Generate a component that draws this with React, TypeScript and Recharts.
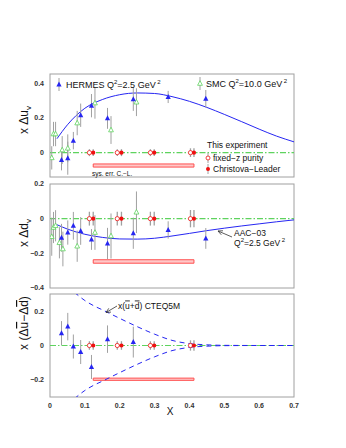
import React from "react";
import {
  ComposedChart,
  Line,
  Scatter,
  XAxis,
  YAxis,
  ErrorBar,
  ReferenceLine,
  ReferenceArea,
} from "recharts";

const BLUE = "#2626f2";
const GREEN = "#5ed35e";
const RED = "#f01010";
const GRAY = "#a0a0a0";
const FONT = "'Liberation Sans', Arial, sans-serif";

// x positions of the measurements
const xHermes = [0.033, 0.051, 0.067, 0.088, 0.119, 0.165, 0.239, 0.339, 0.447];
const xSmcU = [0.005, 0.01, 0.016, 0.035, 0.051, 0.078, 0.129, 0.175, 0.248];
const xSmcD = [0.005, 0.01, 0.016, 0.027, 0.037, 0.078, 0.129, 0.175, 0.248];
const xFixedZ = [0.113, 0.193, 0.288, 0.403];
const xChrLea = [0.124, 0.205, 0.299, 0.413];

// panel 1: x Δu_v
const uvHermes = [-0.042, -0.032, 0.069, 0.215, 0.27, 0.197, 0.307, 0.32, 0.31];
const uvHermesErr = [0.06, 0.095, 0.05, 0.067, 0.067, 0.06, 0.067, 0.035, 0.05];
const uvSmc = [-0.03, 0.107, 0.107, 0.015, 0.025, 0.17, 0.285, 0.13, 0.29];
const uvSmcErr = [0.067, 0.07, 0.07, 0.08, 0.08, 0.07, 0.09, 0.08, 0.08];
const uvThis = [0, 0, 0, 0];
const uvThisErr = [0.02, 0.02, 0.02, 0.025];
const uvSys = [-0.083, -0.065];

// panel 2: x Δd_v
const dvHermes = [-0.11, -0.08, -0.041, -0.071, -0.12, -0.143, -0.084, -0.065, -0.114];
const dvHermesErr = [0.08, 0.07, 0.08, 0.08, 0.06, 0.09, 0.09, 0.05, 0.06];
const dvSmc = [-0.104, -0.051, -0.041, -0.139, -0.175, -0.159, -0.08, -0.1, 0.037];
const dvSmcErr = [0.11, 0.09, 0.09, 0.09, 0.1, 0.09, 0.1, 0.13, 0.12];
const dvThis = [0, 0, 0, 0];
const dvThisErr = [0.04, 0.04, 0.04, 0.05];
const dvSys = [-0.257, -0.237];

// panel 3: x (Δū − Δd̄)
const xHermesSea = [0.033, 0.051, 0.067, 0.088, 0.119, 0.165, 0.239];
const seaHermes = [0.072, 0.11, -0.006, -0.038, -0.125, 0.037, 0.02];
const seaHermesErr = [0.07, 0.08, 0.07, 0.07, 0.07, 0.08, 0.09];
const seaThis = [0, 0, 0, 0];
const seaThisErr = [0.025, 0.025, 0.025, 0.03];
const seaSys = [-0.203, -0.19];

// AAC-03 curves, Q²=2.5 GeV²
const aacX = [0.02, 0.05, 0.1, 0.15, 0.2, 0.25, 0.3, 0.35, 0.4, 0.45, 0.5, 0.55, 0.6, 0.65, 0.7];
const aacUv = [0.08, 0.16, 0.255, 0.305, 0.333, 0.343, 0.34, 0.322, 0.295, 0.26, 0.22, 0.178, 0.135, 0.095, 0.062];
const aacDv = [-0.035, -0.06, -0.09, -0.108, -0.117, -0.118, -0.113, -0.1, -0.085, -0.069, -0.055, -0.042, -0.03, -0.018, -0.007];

// CTEQ5M x(ū+d̄) band
const cteqX = [0.07, 0.1, 0.125, 0.15, 0.2, 0.25, 0.3, 0.35, 0.4, 0.45, 0.5, 0.6, 0.7];
const cteqUp = [0.31, 0.262, 0.232, 0.208, 0.158, 0.11, 0.066, 0.03, 0.011, 0.004, 0.001, 0, 0];
const cteqDn = [-0.31, -0.262, -0.232, -0.208, -0.158, -0.11, -0.066, -0.03, -0.011, -0.004, -0.001, 0, 0];

const xTicks = [0, 0.1, 0.2, 0.3, 0.4, 0.5, 0.6, 0.7];
const xMinor = [0, 0.02, 0.04, 0.06, 0.08, 0.1, 0.12, 0.14, 0.16, 0.18, 0.2, 0.22, 0.24, 0.26, 0.28, 0.3, 0.32, 0.34, 0.36, 0.38, 0.4, 0.42, 0.44, 0.46, 0.48, 0.5, 0.52, 0.54, 0.56, 0.58, 0.6, 0.62, 0.64, 0.66, 0.68, 0.7];

const pts = (xs: number[], ys: number[], es?: number[]) =>
  xs.map((x, i) => ({ x, y: ys[i], e: es ? es[i] : 0 }));

const fmt = (v: number) => String(v).replace("-", "\u2212");
const NoTick = () => <g />;

// marker shapes (recharts passes the scaled cx/cy)
const BlueTri = (p: any) => (
  <polygon points={`${p.cx},${p.cy - 3} ${p.cx - 2.6},${p.cy + 2} ${p.cx + 2.6},${p.cy + 2}`} fill={BLUE} />
);
const GreenTri = (p: any) => (
  <polygon
    points={`${p.cx},${p.cy - 2.8} ${p.cx - 2.4},${p.cy + 1.8} ${p.cx + 2.4},${p.cy + 1.8}`}
    fill="#fff"
    stroke={GREEN}
    strokeWidth={0.8}
  />
);
const OpenDot = (p: any) => <circle cx={p.cx} cy={p.cy} r={2.1} fill="#fff" stroke={RED} strokeWidth={0.8} />;
const FullDot = (p: any) => <circle cx={p.cx} cy={p.cy} r={2.1} fill={RED} />;

const W = 346;
const PLOT_L = 50;
const PLOT_R = 294;
const PAD = 6;

type PanelProps = {
  top: number;
  height: number;
  domain: [number, number];
  yTicks: number[];
  showX?: boolean;
  children: React.ReactNode;
};

function Panel({ top, height, domain, yTicks, showX, children }: PanelProps) {
  const axisH = showX ? 22 : 0;
  return (
    <div style={{ position: "absolute", left: 0, top: top - PAD }}>
      <ComposedChart
        width={W}
        height={height + axisH + 2 * PAD}
        margin={{ top: PAD, right: W - PLOT_R, bottom: PAD, left: 0 }}
      >
        <XAxis
          dataKey="x"
          type="number"
          domain={[0, 0.7]}
          ticks={xTicks}
          allowDataOverflow
          hide={!showX}
          height={axisH}
          axisLine={false}
          tickLine={false}
          tickSize={0}
          tickMargin={6}
          tickFormatter={fmt}
          tick={{ fontSize: 7, fill: "#333", fontFamily: FONT, fontWeight: 700 }}
        />
        <XAxis
          xAxisId="maj"
          dataKey="x"
          type="number"
          domain={[0, 0.7]}
          ticks={xTicks}
          mirror
          height={0}
          axisLine={false}
          tickSize={5}
          tick={NoTick}
          stroke={GRAY}
        />
        <XAxis
          xAxisId="min"
          dataKey="x"
          type="number"
          domain={[0, 0.7]}
          ticks={xMinor}
          mirror
          height={0}
          axisLine={false}
          tickSize={2.5}
          tick={NoTick}
          stroke={GRAY}
        />
        <YAxis
          type="number"
          domain={domain}
          ticks={yTicks}
          allowDataOverflow
          width={PLOT_L}
          axisLine={false}
          tickLine={false}
          tickSize={0}
          tickMargin={6}
          tickFormatter={fmt}
          tick={{ fontSize: 7, fill: "#333", fontFamily: FONT, fontWeight: 700 }}
        />
        {children}
      </ComposedChart>
    </div>
  );
}

function sysBand(ys: number[]) {
  return (
    <ReferenceArea
      x1={xChrLea[0]}
      x2={xChrLea[3]}
      y1={ys[0]}
      y2={ys[1]}
      fill="#ffc8c8"
      fillOpacity={1}
      stroke="#ff5050"
      strokeWidth={1}
    />
  );
}

function zeroLine() {
  return <ReferenceLine y={0} stroke={GREEN} strokeWidth={1.2} strokeDasharray="6 2 1.5 2" />;
}

function ourPoints(ys: number[], es: number[]) {
  return [
    <Scatter
      key="fz"
      data={pts(xFixedZ, ys, es)}
      dataKey="y"
      shape={OpenDot}
      legendType="none"
      isAnimationActive={false}
    >
      <ErrorBar dataKey="e" direction="y" width={0} stroke={GRAY} strokeWidth={1.3} isAnimationActive={false} />
    </Scatter>,
    <Scatter
      key="cl"
      data={pts(xChrLea, ys, es)}
      dataKey="y"
      shape={FullDot}
      legendType="none"
      isAnimationActive={false}
    >
      <ErrorBar dataKey="e" direction="y" width={0} stroke={GRAY} strokeWidth={1.3} isAnimationActive={false} />
    </Scatter>,
  ];
}

function hermes(xs: number[], ys: number[], es: number[]) {
  return (
    <Scatter data={pts(xs, ys, es)} dataKey="y" shape={BlueTri} isAnimationActive={false}>
      <ErrorBar dataKey="e" direction="y" width={0} stroke={GRAY} strokeWidth={1} isAnimationActive={false} />
    </Scatter>
  );
}

function smc(xs: number[], ys: number[], es: number[]) {
  return (
    <Scatter data={pts(xs, ys, es)} dataKey="y" shape={GreenTri} isAnimationActive={false}>
      <ErrorBar dataKey="e" direction="y" width={0} stroke={GRAY} strokeWidth={1} isAnimationActive={false} />
    </Scatter>
  );
}

function Arrow({ x1, y1, x2, y2 }: { x1: number; y1: number; x2: number; y2: number }) {
  const a = Math.atan2(y2 - y1, x2 - x1);
  const L = 5;
  const h1 = [x2 - L * Math.cos(a - 0.45), y2 - L * Math.sin(a - 0.45)];
  const h2 = [x2 - L * Math.cos(a + 0.45), y2 - L * Math.sin(a + 0.45)];
  return (
    <g stroke="#333" strokeWidth={0.8} fill="none">
      <line x1={x1} y1={y1} x2={x2} y2={y2} />
      <polyline points={`${h1[0]},${h1[1]} ${x2},${y2} ${h2[0]},${h2[1]}`} />
    </g>
  );
}

const over = { textDecoration: "overline" } as React.CSSProperties;

export default function App() {
  const frames = [
    [74, 177],
    [184, 288],
    [294, 397],
  ];
  return (
    <div style={{ position: "absolute", left: 0, top: 0, width: W, height: 448, background: "#fff", fontFamily: FONT }}>
      <svg width={W} height={448} style={{ position: "absolute", left: 0, top: 0 }}>
        {frames.map(([t, b]) => (
          <rect key={t} x={PLOT_L} y={t} width={PLOT_R - PLOT_L} height={b - t} fill="#fff" stroke={GRAY} strokeWidth={1} />
        ))}
      </svg>

      <Panel top={74} height={103} domain={[-0.14, 0.452]} yTicks={[0, 0.2, 0.4]}>
        {sysBand(uvSys)}
        {zeroLine()}
        <Line
          data={pts(aacX, aacUv)}
          dataKey="y"
          stroke={BLUE}
          strokeWidth={1}
          dot={false}
          activeDot={false}
          type="monotone"
          isAnimationActive={false}
        />
        {smc(xSmcU, uvSmc, uvSmcErr)}
        {hermes(xHermes, uvHermes, uvHermesErr)}
        {ourPoints(uvThis, uvThisErr)}
      </Panel>

      <Panel top={184} height={104} domain={[-0.4, 0.2]} yTicks={[-0.4, -0.2, 0, 0.2]}>
        {sysBand(dvSys)}
        {zeroLine()}
        <Line
          data={pts(aacX, aacDv)}
          dataKey="y"
          stroke={BLUE}
          strokeWidth={1}
          dot={false}
          activeDot={false}
          type="monotone"
          isAnimationActive={false}
        />
        {smc(xSmcD, dvSmc, dvSmcErr)}
        {hermes(xHermes, dvHermes, dvHermesErr)}
        {ourPoints(dvThis, dvThisErr)}
      </Panel>

      <Panel top={294} height={103} domain={[-0.3, 0.3]} yTicks={[-0.2, 0, 0.2]} showX>
        {sysBand(seaSys)}
        {zeroLine()}
        <Line
          data={pts(cteqX, cteqUp)}
          dataKey="y"
          stroke={BLUE}
          strokeWidth={1}
          strokeDasharray="5 4"
          dot={false}
          activeDot={false}
          type="monotone"
          isAnimationActive={false}
        />
        <Line
          data={pts(cteqX, cteqDn)}
          dataKey="y"
          stroke={BLUE}
          strokeWidth={1}
          strokeDasharray="5 4"
          dot={false}
          activeDot={false}
          type="monotone"
          isAnimationActive={false}
        />
        {hermes(xHermesSea, seaHermes, seaHermesErr)}
        {ourPoints(seaThis, seaThisErr)}
      </Panel>

      <svg width={W} height={448} style={{ position: "absolute", left: 0, top: 0, pointerEvents: "none" }} fontFamily={FONT} fill="#111">
        {/* axis titles */}
        <text transform="translate(28,120) rotate(-90)" textAnchor="middle" fontSize={12}>
          x {"\u0394"}u<tspan fontSize={8} dy={3}>v</tspan>
        </text>
        <text transform="translate(28,233) rotate(-90)" textAnchor="middle" fontSize={12}>
          x {"\u0394"}d<tspan fontSize={8} dy={3}>v</tspan>
        </text>
        <text transform="translate(28,323) rotate(-90)" textAnchor="middle" fontSize={12}>
          x ({"\u0394"}<tspan style={over}>u</tspan>{"\u2212\u0394"}<tspan style={over}>d</tspan>)
        </text>
        <text x={170} y={415} textAnchor="middle" fontSize={10}>X</text>

        {/* legend, panel 1 */}
        <line x1={59} y1={78} x2={59} y2={91} stroke={GRAY} strokeWidth={1} />
        <polygon points="59,81.5 56.4,86.5 61.6,86.5" fill={BLUE} />
        <text x={66} y={87.5} fontSize={9}>
          HERMES Q<tspan fontSize={6} dy={-4}>2</tspan><tspan dy={4}>=2.5 GeV</tspan><tspan fontSize={6} dy={-4}> 2</tspan>
        </text>
        <line x1={200} y1={77} x2={200} y2={90} stroke={GRAY} strokeWidth={1} />
        <polygon points="200,80.7 197.6,85.3 202.4,85.3" fill="#fff" stroke={GREEN} strokeWidth={0.8} />
        <text x={206} y={86.5} fontSize={9}>
          SMC Q<tspan fontSize={6} dy={-4}>2</tspan><tspan dy={4}>=10.0 GeV</tspan><tspan fontSize={6} dy={-4}> 2</tspan>
        </text>
        <text x={207} y={148} fontSize={8.5}>This experiment</text>
        <line x1={208} y1={153} x2={208} y2={163} stroke={GRAY} strokeWidth={1} />
        <circle cx={208} cy={158} r={2} fill="#fff" stroke={RED} strokeWidth={0.8} />
        <text x={213} y={161} fontSize={8.5}>fixed{"\u2212"}z purity</text>
        <line x1={208} y1={164} x2={208} y2={174} stroke={GRAY} strokeWidth={1} />
        <circle cx={208} cy={169} r={2} fill={RED} />
        <text x={213} y={172} fontSize={8.5}>Christova{"\u2212"}Leader</text>
        <text x={92} y={175.5} fontSize={6.5}>sys. err. C.{"\u2212"}L.</text>

        {/* AAC-03 label */}
        <Arrow x1={232} y1={237} x2={218} y2={231} />
        <text x={234} y={236} fontSize={8.5}>AAC{"\u2212"}03</text>
        <text x={234} y={245.5} fontSize={8.5}>
          Q<tspan fontSize={6} dy={-4}>2</tspan><tspan dy={4}>=2.5 GeV</tspan><tspan fontSize={6} dy={-4}> 2</tspan>
        </text>

        {/* CTEQ label */}
        <Arrow x1={117} y1={306} x2={106} y2={312.5} />
        <text x={118} y={308.5} fontSize={8.5}>
          x(<tspan style={over}>u</tspan>+<tspan style={over}>d</tspan>) CTEQ5M
        </text>
      </svg>
    </div>
  );
}
